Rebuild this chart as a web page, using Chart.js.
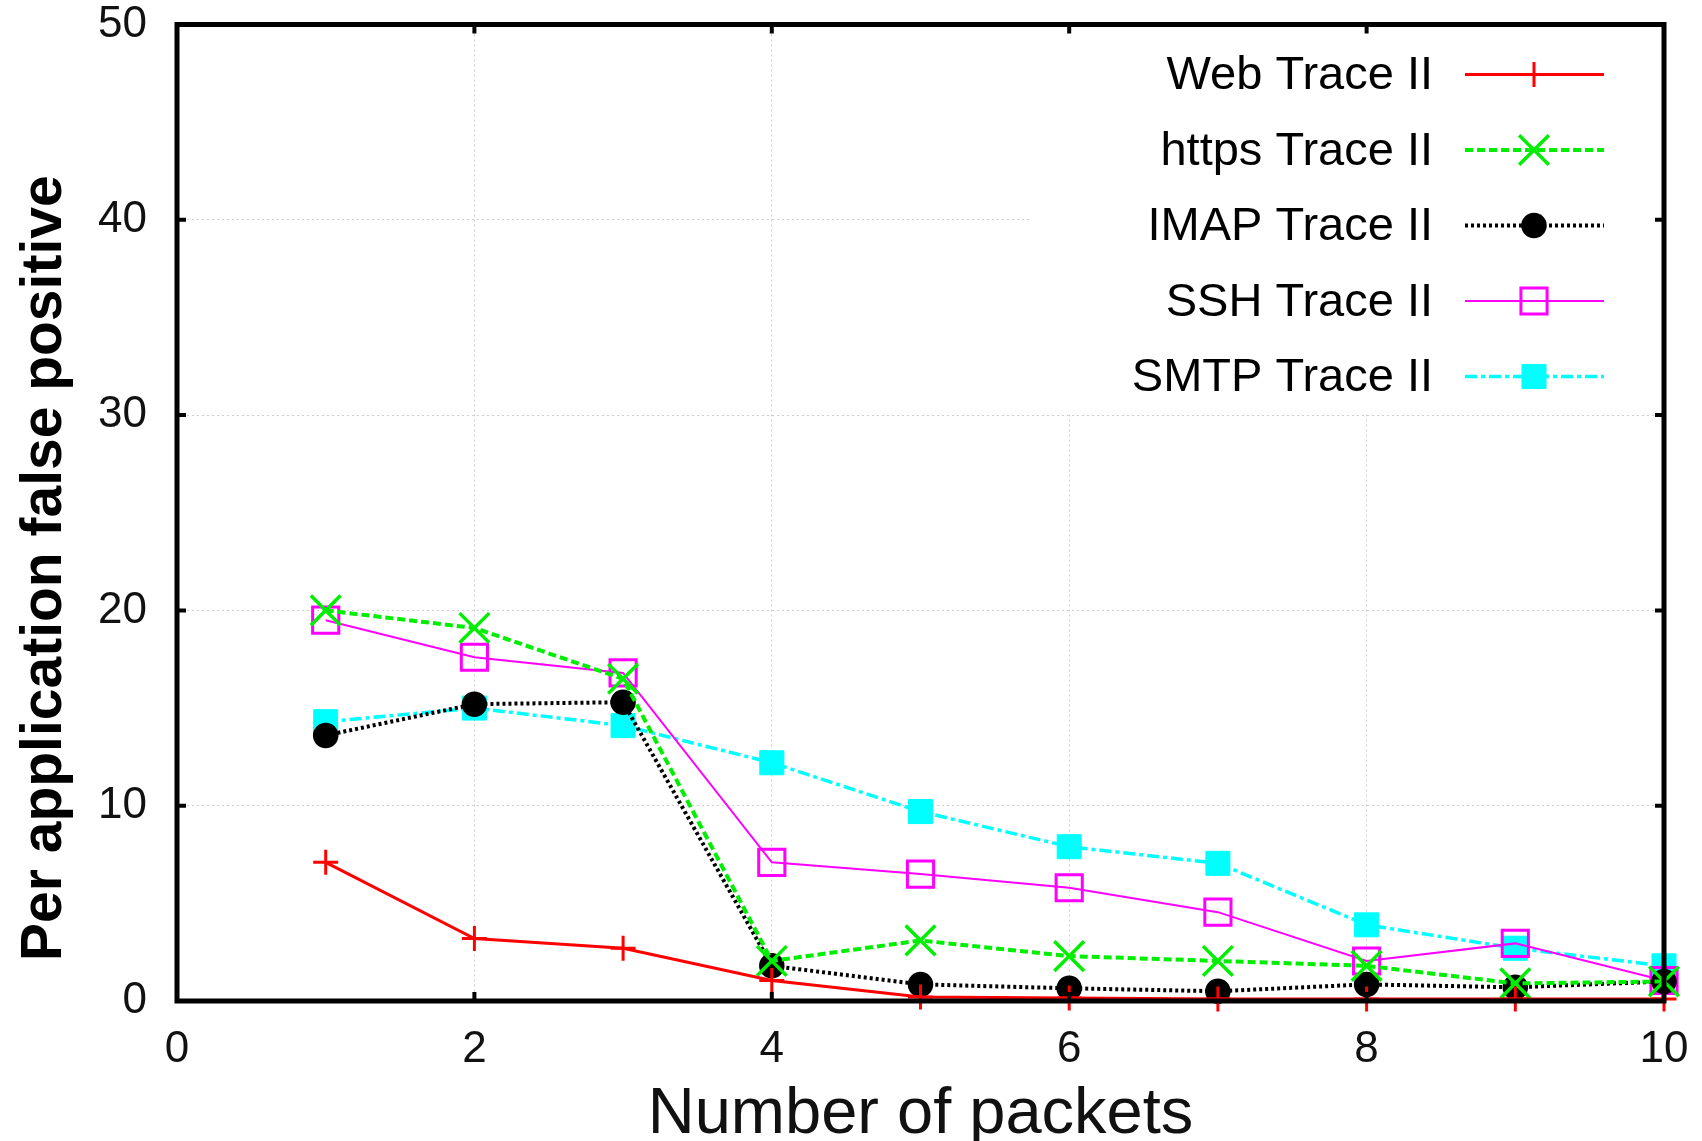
<!DOCTYPE html>
<html>
<head>
<meta charset="utf-8">
<script src="https://cdn.jsdelivr.net/npm/chart.js@4/dist/chart.umd.min.js"></script>
<style>
  body { margin: 0; background: #fff; }
  #zone { width: 1702px; height: 1141px; position: relative; }
</style>
</head>
<body>
<div id="zone"><canvas id="graphique-fp"></canvas></div>
<script>
// Données
const paquets = [1, 2, 3, 4, 5, 6, 7, 8, 9, 10];
const webTrace = [7.1, 3.2, 2.7, 1.05, 0.2, 0.15, 0.1, 0.1, 0.1, 0.1];
const httpsTrace = [20.0, 19.1, 16.5, 2.05, 3.1, 2.3, 2.05, 1.8, 0.9, 1.0];
const imapTrace = [13.6, 15.2, 15.3, 1.8, 0.85, 0.65, 0.5, 0.85, 0.7, 1.0];
const sshTrace = [19.5, 17.6, 16.8, 7.1, 6.5, 5.8, 4.55, 2.05, 2.95, 1.05];
const smtpTrace = [14.3, 15.0, 14.1, 12.2, 9.7, 7.9, 7.05, 3.9, 2.7, 1.8];
const ticksX = [0, 2, 4, 6, 8, 10];
const ticksY = [0, 10, 20, 30, 40, 50];

const police = "'Liberation Sans', Arial, Helvetica, sans-serif";

const datasets = [
  {
    label: "Web Trace II",
    data: webTrace,
    borderColor: "#ff0000",
    borderWidth: 3,
    pointStyle: "cross",
    pointRadius: 12.5,
    pointBorderWidth: 3,
    pointBorderColor: "#ff0000",
    pointBackgroundColor: "#ff0000",
  },
  {
    label: "https Trace II",
    data: httpsTrace,
    borderColor: "#00ee00",
    borderWidth: 4,
    borderDash: [8, 4],
    pointStyle: "crossRot",
    pointRadius: 21,
    pointBorderWidth: 3.5,
    pointBorderColor: "#00ee00",
    pointBackgroundColor: "#00ee00",
  },
  {
    label: "IMAP Trace II",
    data: imapTrace,
    borderColor: "#000000",
    borderWidth: 4,
    borderDash: [3, 3],
    pointStyle: "circle",
    pointRadius: 12,
    pointBorderWidth: 1.5,
    pointBorderColor: "#000000",
    pointBackgroundColor: "#000000",
  },
  {
    label: "SSH Trace II",
    data: sshTrace,
    borderColor: "#ff00ff",
    borderWidth: 2,
    pointStyle: "rect",
    pointRadius: 18.5,
    pointBorderWidth: 3,
    pointBorderColor: "#ff00ff",
    pointBackgroundColor: "rgba(0,0,0,0)",
  },
  {
    label: "SMTP Trace II",
    data: smtpTrace,
    borderColor: "#00ffff",
    borderWidth: 3.5,
    borderDash: [12, 4, 4, 4],
    pointStyle: "rect",
    pointRadius: 17,
    pointBorderWidth: 1,
    pointBorderColor: "#00ffff",
    pointBackgroundColor: "#00ffff",
  },
];
for (const d of datasets) {
  d.fill = false;
  d.tension = 0;
  d.clip = false;
  d.pointHoverRadius = d.pointRadius;
}

// Fond blanc de la légende (sous les courbes), puis cadre noir et graduations par-dessus
const cadre = {
  id: "cadre",
  beforeDatasetsDraw(chart) {
    const { ctx, chartArea: a } = chart;
    ctx.save();
    ctx.fillStyle = "#ffffff";
    ctx.fillRect(a.right - 633, a.top, 633, 388);
    ctx.restore();
  },
  afterDatasetsDraw(chart) {
    const { ctx, chartArea: a, scales } = chart;
    ctx.save();
    ctx.strokeStyle = "#000000";
    ctx.lineWidth = 5;
    ctx.strokeRect(a.left, a.top, a.right - a.left, a.bottom - a.top);
    ctx.lineWidth = 4;
    ctx.beginPath();
    for (const t of scales.x.ticks) {
      const px = scales.x.getPixelForValue(t.value);
      ctx.moveTo(px, a.bottom);
      ctx.lineTo(px, a.bottom - 9);
      ctx.moveTo(px, a.top);
      ctx.lineTo(px, a.top + 9);
    }
    for (const t of scales.y.ticks) {
      const py = scales.y.getPixelForValue(t.value);
      ctx.moveTo(a.left, py);
      ctx.lineTo(a.left + 9, py);
      ctx.moveTo(a.right, py);
      ctx.lineTo(a.right - 9, py);
    }
    ctx.stroke();
    ctx.restore();
  },
  afterDraw(chart) {
    // légende à la gnuplot : texte à gauche, échantillon de trait à droite
    const { ctx, chartArea: a } = chart;
    ctx.save();
    chart.data.datasets.forEach((d, i) => {
      const y = a.top + 50 + i * 75.5;
      ctx.font = "47px " + police;
      ctx.fillStyle = "#000";
      ctx.textAlign = "right";
      ctx.textBaseline = "middle";
      ctx.fillText(d.label, a.right - 231, y + 2);
      ctx.strokeStyle = d.borderColor;
      ctx.lineWidth = d.borderWidth;
      ctx.setLineDash(d.borderDash || []);
      ctx.beginPath();
      ctx.moveTo(a.right - 199, y);
      ctx.lineTo(a.right - 60, y);
      ctx.stroke();
      ctx.setLineDash([]);
      ctx.fillStyle = d.pointBackgroundColor;
      ctx.strokeStyle = d.pointBorderColor;
      ctx.lineWidth = d.pointBorderWidth;
      if (Chart.helpers && Chart.helpers.drawPoint) {
        Chart.helpers.drawPoint(ctx, {
          pointStyle: d.pointStyle,
          radius: d.pointRadius,
          borderWidth: d.pointBorderWidth,
          rotation: 0,
        }, a.right - 130, y);
      }
    });
    ctx.restore();
  },
};

new Chart(document.querySelector("#graphique-fp"), {
  type: "line",
  data: { labels: paquets, datasets: datasets },
  options: {
    responsive: true,
    maintainAspectRatio: false,
    animation: false,
    layout: { padding: { left: 0, right: 38, top: 0, bottom: 0 } },
    plugins: { legend: { display: false }, tooltip: { enabled: false } },
    scales: {
      x: {
        type: "linear",
        min: 0,
        max: 10,
        afterFit: (s) => { s.height = 140; },
        afterBuildTicks: (s) => { s.ticks = ticksX.map((v) => ({ value: v })); },
        ticks: {
          color: "#111",
          padding: 2,
          maxRotation: 0,
          font: { family: police, size: 44 },
        },
        grid: {
          color: "#cfcfcf",
          lineWidth: 1,
          drawTicks: true,
          tickLength: 20,
          tickColor: "rgba(0,0,0,0)",
        },
        border: { display: false, dash: [2, 3] },
        title: {
          display: true,
          text: "Number of packets",
          color: "#111",
          padding: 0,
          font: { family: police, size: 65, lineHeight: 0.8 },
        },
      },
      y: {
        min: 0,
        max: 50,
        afterFit: (s) => { s.width = 177; },
        afterBuildTicks: (s) => { s.ticks = ticksY.map((v) => ({ value: v })); },
        ticks: {
          color: "#111",
          padding: 2,
          font: { family: police, size: 44, lineHeight: 1.0 },
        },
        grid: {
          color: "#cfcfcf",
          lineWidth: 1,
          drawTicks: true,
          tickLength: 28,
          tickColor: "rgba(0,0,0,0)",
        },
        border: { display: false, dash: [2, 3] },
        title: {
          display: true,
          text: "Per application false positive       ",
          color: "#000",
          padding: { top: 11, bottom: 0 },
          font: { family: police, size: 57, weight: "bold" },
        },
      },
    },
  },
  plugins: [cadre],
});
</script>
</body>
</html>
